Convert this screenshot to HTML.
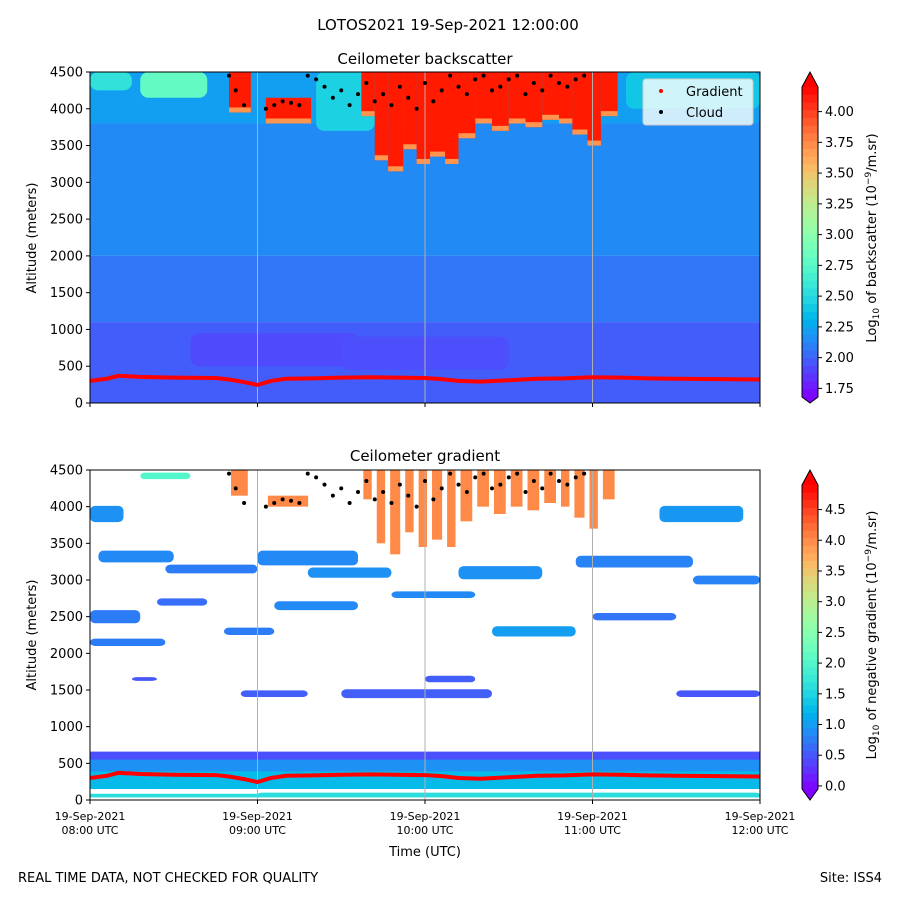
<!DOCTYPE html>
<html><head><meta charset="utf-8"><style>
body{margin:0;background:#fff;}
svg text{font-family:"DejaVu Sans","Liberation Sans",sans-serif;fill:#000;}
</style></head><body>
<svg id="fig" width="900" height="900" viewBox="0 0 900 900" xmlns="http://www.w3.org/2000/svg">
<rect width="900" height="900" fill="#fff"/>
<text x="448" y="30" font-size="15" text-anchor="middle">LOTOS2021 19-Sep-2021 12:00:00</text>
<text x="425" y="64" font-size="15" text-anchor="middle">Ceilometer backscatter</text>
<text x="425" y="461" font-size="15" text-anchor="middle">Ceilometer gradient</text>
<defs>
<clipPath id="c1"><rect x="90" y="72" width="670" height="331"/></clipPath>
<clipPath id="c2"><rect x="90" y="470" width="670" height="330"/></clipPath>
</defs>
<g id="topArea" clip-path="url(#c1)"></g>
<g id="botArea" clip-path="url(#c2)"></g>
<g id="axes"></g>
<text x="425" y="856" font-size="13" text-anchor="middle">Time (UTC)</text>
<text transform="translate(36,238) rotate(-90)" font-size="13" text-anchor="middle">Altitude (meters)</text>
<text transform="translate(36,635) rotate(-90)" font-size="13" text-anchor="middle">Altitude (meters)</text>
<text x="18" y="882" font-size="13">REAL TIME DATA, NOT CHECKED FOR QUALITY</text>
<text x="882" y="882" font-size="13" text-anchor="end">Site: ISS4</text>
<g id="cb"></g>
<g>
<rect x="643" y="79" width="110" height="46" rx="3" fill="#fff" fill-opacity="0.8" stroke="#ccc"/>
<circle cx="661" cy="91" r="2" fill="red"/>
<text x="686" y="96" font-size="13">Gradient</text>
<circle cx="661" cy="112" r="2" fill="#000"/>
<text x="686" y="117" font-size="13">Cloud</text>
</g>
<text transform="translate(876,238) rotate(-90)" font-size="13" text-anchor="middle">Log<tspan font-size="9" dy="3">10</tspan><tspan dy="-3"> of backscatter (10</tspan><tspan font-size="9" dy="-5">−9</tspan><tspan dy="5">/m.sr)</tspan></text>
<text transform="translate(876,635) rotate(-90)" font-size="13" text-anchor="middle">Log<tspan font-size="9" dy="3">10</tspan><tspan dy="-3"> of negative gradient (10</tspan><tspan font-size="9" dy="-5">−9</tspan><tspan dy="5">/m.sr)</tspan></text>
</svg>
<script>
// ---- data ----
const gradTimes=[8.0,8.1,8.17,8.3,8.5,8.75,8.83,8.92,9.0,9.08,9.17,9.33,9.5,9.67,9.83,10.0,10.1,10.2,10.33,10.5,10.67,10.83,11.0,11.17,11.33,11.5,11.75,12.0];
const gradAlts=[300,330,370,355,345,340,320,285,245,300,330,335,345,350,345,340,325,300,290,310,330,335,350,345,335,330,325,320];
const cloudTimes=[8.83,8.87,8.92,9.05,9.1,9.15,9.2,9.25,9.3,9.35,9.4,9.45,9.5,9.55,9.6,9.65,9.7,9.75,9.8,9.85,9.9,9.95,10.0,10.05,10.1,10.15,10.2,10.25,10.3,10.35,10.4,10.45,10.5,10.55,10.6,10.65,10.7,10.75,10.8,10.85,10.9,10.95];
const cloudAlts=[4450,4250,4050,4000,4050,4100,4080,4050,4450,4400,4300,4150,4250,4050,4200,4350,4100,4200,4050,4300,4150,4000,4350,4100,4250,4450,4300,4200,4400,4450,4250,4300,4400,4450,4200,4350,4250,4450,4350,4300,4400,4450];
const cloudStart=[8.83,9.05,9.62,9.7,9.78,9.87,9.95,10.03,10.12,10.2,10.3,10.4,10.5,10.6,10.7,10.8,10.88,10.97,11.05];
const cloudEnd  =[8.96,9.32,9.7,9.78,9.87,9.95,10.03,10.12,10.2,10.3,10.4,10.5,10.6,10.7,10.8,10.88,10.97,11.05,11.15];
const cloudBase =[3950,3800,3900,3300,3150,3450,3250,3350,3250,3600,3800,3700,3800,3750,3850,3800,3650,3500,3900];
const cloudTop  =[4500,4150,4500,4500,4500,4500,4500,4500,4500,4500,4500,4500,4500,4500,4500,4500,4500,4500,4500];
const bsStart=[8,8,8,8,8,8.3,9.35,11.2,8.6,9.5];
const bsEnd  =[12,12,12,12,8.25,8.7,9.7,12,9.6,10.5];
const bsLow  =[0,1100,2000,3800,4250,4150,3700,4000,500,450];
const bsHigh =[1100,2000,3800,4500,4500,4500,4500,4500,950,900];
const bsVal  =[1.98,2.07,2.14,2.22,2.55,2.8,2.45,2.4,1.92,1.93];
const gStart=[8,8,8,8,8,8.05,8.45,9.0,9.3,8.0,8.0,8.4,8.8,9.1,9.8,10.2,10.4,10.9,11.0,11.4,11.6,8.9,9.5,10.0,11.5,8.25,8.3,9.0];
const gEnd  =[12,12,12,12,8.2,8.5,9.0,9.6,9.8,8.3,8.45,8.7,9.1,9.6,10.3,10.7,10.9,11.6,11.5,11.9,12.0,9.3,10.4,10.3,12.0,8.4,8.6,12.0];
const gAlt  =[590,450,270,60,3900,3320,3150,3300,3100,2500,2150,2700,2300,2650,2800,3100,2300,3250,2500,3900,3000,1450,1450,1650,1450,1650,4420,80];
const gHalf =[70,100,120,25,110,80,60,100,70,90,50,50,50,60,45,90,70,80,50,110,60,45,60,45,45,25,45,20];
const gVal  =[0.45,0.9,1.25,1.6,0.9,0.85,0.75,0.85,0.9,0.75,0.75,0.65,0.75,0.85,0.85,0.9,1.0,0.8,0.7,0.95,0.8,0.55,0.55,0.55,0.5,0.5,2.0,1.6];
const topTicks=[1.75,2.00,2.25,2.50,2.75,3.00,3.25,3.50,3.75,4.00];
const botTicks=[0.0,0.5,1.0,1.5,2.0,2.5,3.0,3.5,4.0,4.5];
const altTicks=[0,500,1000,1500,2000,2500,3000,3500,4000,4500];
const timeTicks=[8,9,10,11,12];
const timeLabels=["08:00 UTC","09:00 UTC","10:00 UTC","11:00 UTC","12:00 UTC"];
// ---- scales ----
const NS="http://www.w3.org/2000/svg";
const xS=t=>90+(t-8)*167.5;
const yT=a=>403-a*331/4500;
const yB=a=>800-a*330/4500;
function rainbow(x){x=Math.max(0,Math.min(1,x));
 const r=Math.min(1,Math.abs(2*x-0.5)),g=Math.sin(Math.PI*x),b=Math.cos(Math.PI*x/2);
 return `rgb(${Math.round(r*255)},${Math.round(g*255)},${Math.round(b*255)})`;}
const cTop=v=>rainbow((v-1.68)/(4.2-1.68));
const cBot=v=>rainbow((v+0.05)/(4.95));
function mk(p,tag,at){const e=document.createElementNS(NS,tag);for(const k in at)e.setAttribute(k,at[k]);p.appendChild(e);return e;}
const gTopEl=document.getElementById('topArea'),gBotEl=document.getElementById('botArea'),axEl=document.getElementById('axes'),cbEl=document.getElementById('cb');
bsVal.forEach((v,i)=>{const e=mk(gTopEl,'rect',{x:xS(bsStart[i]),y:yT(bsHigh[i]),width:xS(bsEnd[i])-xS(bsStart[i]),height:yT(bsLow[i])-yT(bsHigh[i]),fill:cTop(v),rx:i>3?8:0});

});
gVal.forEach((v,i)=>{const e=mk(gBotEl,'rect',{x:xS(gStart[i]),y:yB(gAlt[i]+gHalf[i]),width:xS(gEnd[i])-xS(gStart[i]),height:yB(gAlt[i]-gHalf[i])-yB(gAlt[i]+gHalf[i]),fill:cBot(v),rx:i>3?5:0});

});
cloudBase.forEach((b,i)=>{
 const x=xS(cloudStart[i]),w=xS(cloudEnd[i])-x;
 const e=mk(gTopEl,'rect',{x:x,y:yT(cloudTop[i]),width:w,height:yT(b)-yT(cloudTop[i]),fill:'#ff1a00'});
 
 
 const e2=mk(gTopEl,'rect',{x:x,y:yT(b)-5,width:w,height:5,fill:cTop(3.7)});
 
 
 const e3=mk(gBotEl,'rect',{x:x+2,y:yB(cloudTop[i]),width:Math.max(1,w-5),height:yB(b+200)-yB(cloudTop[i]),fill:cBot(4.0)});
 
 
});
[gTopEl,gBotEl].forEach((g,k)=>{
 timeTicks.slice(1,4).forEach(t=>{const l=mk(g,'line',{x1:xS(t),x2:xS(t),y1:k?470:72,y2:k?800:403,stroke:'#b0b0b0','stroke-width':1});
 
 });
 const ys=k?yB:yT;
 let d='';gradTimes.forEach((t,i)=>{d+=(i?'L':'M')+xS(t)+' '+ys(gradAlts[i]);});
 const p=mk(g,'path',{d:d,stroke:'red','stroke-width':4,fill:'none'});
 
 
 cloudTimes.forEach((t,i)=>{const c=mk(g,'circle',{cx:xS(t),cy:ys(cloudAlts[i]),r:2,fill:'#000'});
 
 });
});
[[72,403,yT],[470,800,yB]].forEach(([y0,y1,ys],k)=>{
 mk(axEl,'rect',{x:90,y:y0,width:670,height:y1-y0,fill:'none',stroke:'#000','stroke-width':1});
 altTicks.forEach(a=>{mk(axEl,'line',{x1:86,x2:90,y1:ys(a),y2:ys(a),stroke:'#000'});
  const t=mk(axEl,'text',{x:83,y:ys(a)+4.5,'font-size':13,'text-anchor':'end'});t.textContent=a;
  
  });
 timeTicks.forEach((tt,i)=>{mk(axEl,'line',{x1:xS(tt),x2:xS(tt),y1:y1,y2:y1+4,stroke:'#000'});
  if(k){const t=mk(axEl,'text',{x:xS(tt),y:820,'font-size':11,'text-anchor':'middle'});t.textContent='19-Sep-2021';
   
   
   const t2=mk(axEl,'text',{x:xS(tt),y:834,'font-size':11,'text-anchor':'middle'});t2.textContent=timeLabels[i];
   
   }});
});
function colorbar(y0,y1,tip0,tip1,vmin,vmax,cf,ticks,fmt){
 const N=40,h=(y1-y0)/N;
 for(let i=0;i<N;i++){mk(cbEl,'rect',{x:802,y:y0+i*h,width:16,height:h+0.6,fill:cf(vmax-(i+0.5)*(vmax-vmin)/N)});}
 mk(cbEl,'path',{d:`M802 ${y0}L810 ${tip0}L818 ${y0}Z`,fill:cf(vmax+1)});
 mk(cbEl,'path',{d:`M802 ${y1}L810 ${tip1}L818 ${y1}Z`,fill:cf(vmin-1)});
 mk(cbEl,'path',{d:`M802 ${y0}L810 ${tip0}L818 ${y0}L818 ${y1}L810 ${tip1}L802 ${y1}Z`,fill:'none',stroke:'#000'});
 ticks.forEach(v=>{const y=y1-(v-vmin)/(vmax-vmin)*(y1-y0);
  mk(cbEl,'line',{x1:818,x2:822,y1:y,y2:y,stroke:'#000'});
  const t=mk(cbEl,'text',{x:825,y:y+4.5,'font-size':13});t.textContent=v.toFixed(fmt);
  
  });
}
colorbar(87,397,72,403,1.68,4.2,cTop,topTicks,2);
colorbar(485,789,470,800,-0.05,4.9,cBot,botTicks,1);
</script>
</body></html>
